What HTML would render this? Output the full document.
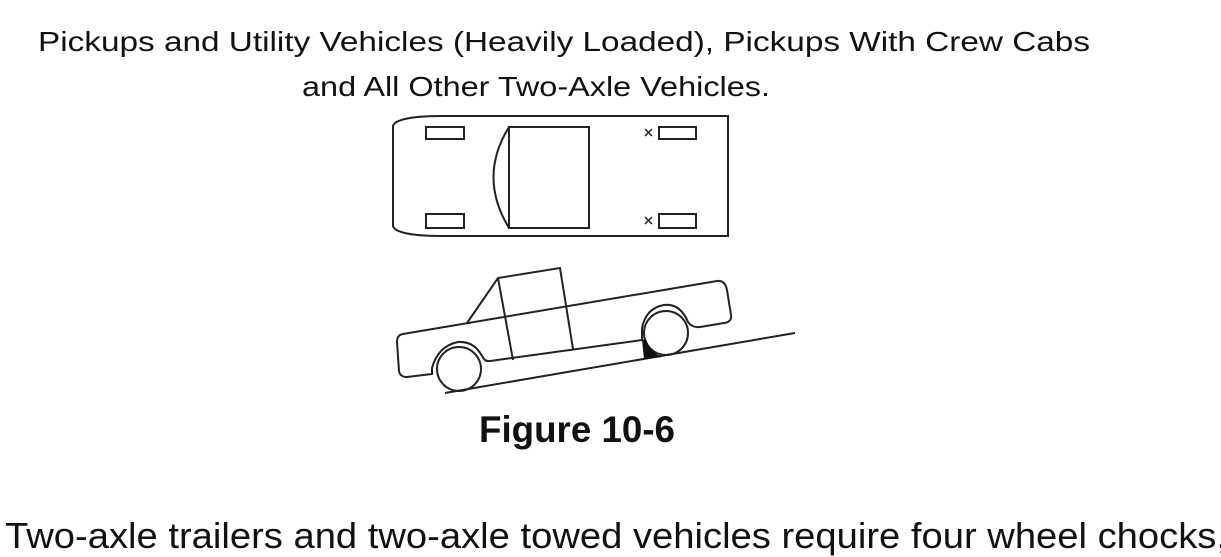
<!DOCTYPE html>
<html><head><meta charset="utf-8"><style>
html,body{margin:0;padding:0;background:#fff;width:1221px;height:557px;overflow:hidden}
svg{display:block}
</style></head><body>
<svg width="1221" height="557" viewBox="0 0 1221 557" xmlns="http://www.w3.org/2000/svg">
<g font-family="Liberation Sans, Arial, sans-serif" fill="#111">
<text x="38" y="51" font-size="28" textLength="1052" lengthAdjust="spacingAndGlyphs">Pickups and Utility Vehicles (Heavily Loaded), Pickups With Crew Cabs</text>
<text x="302" y="96" font-size="28" textLength="468" lengthAdjust="spacingAndGlyphs">and All Other Two-Axle Vehicles.</text>
<text x="479" y="442" font-size="37" font-weight="bold" textLength="196" lengthAdjust="spacingAndGlyphs">Figure 10-6</text>
<text x="5" y="548" font-size="36" textLength="1222" lengthAdjust="spacingAndGlyphs">Two-axle trailers and two-axle towed vehicles require four wheel chocks,</text>
</g>
<g fill="none" stroke="#222" stroke-width="2">
<path d="M443,116 L728,116 L728,236 L443,236 C420,236 395,234 393,226 L393,126 C395,118 420,116 443,116 Z"/>
<rect x="426" y="127" width="38" height="12"/>
<rect x="426" y="214" width="38" height="14"/>
<rect x="659" y="127" width="37" height="12"/>
<rect x="659" y="214" width="37" height="14"/>
<rect x="509" y="127" width="80" height="101"/>
<path d="M509,127 Q478,177 509,228"/>
<path d="M645,129 l7,7 M652,129 l-7,7 M645,217 l7,7 M652,217 l-7,7" stroke-width="1.5"/>
<path d="M445,393 L795,333"/>
<circle cx="459" cy="369" r="22"/>
<circle cx="666" cy="333" r="22"/>
<path d="M403,334 L717,281 Q725,280 727,290 L731,315 Q732,322 724,323 L700,327 Q692,328 688,322 Q680,303 664,305 Q646,308 642,328 L642,340 L490,361 Q485,362 482,356 Q474,341 458,342 Q438,346 432,368 L432,374 L407,377 Q400,377 399,371 L397,342 Q397,335 403,334 Z"/>
<path d="M467,323 L498,278 L560,268 L573,349"/>
<path d="M498,278 L513,360"/>
</g>
<path d="M642,340 L646,339 Q650,352 662,357 L644,359 Z" fill="#111"/>
</svg>
</body></html>
